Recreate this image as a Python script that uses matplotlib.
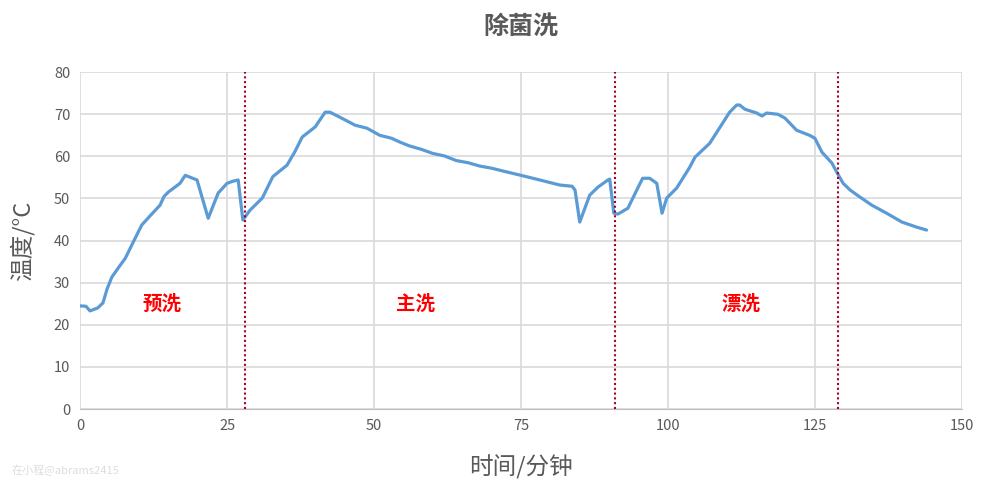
import matplotlib.pyplot as plt

plt.rcParams['font.family'] = ['Noto Sans CJK SC', 'DejaVu Sans']

# time (minutes) and temperature (°C)
minutes = [0, 1, 1.7, 3, 3.9, 4.6, 5.4, 6.5, 7.7, 9, 10.5, 12, 13.6, 14.3, 15, 17, 17.9, 19.9, 21.8, 23.5, 25, 26, 26.9,
           27.7, 28.9, 31, 32.8, 35.2, 36.5, 37.8, 40, 41.7, 42.5, 44.2, 46.8, 48.8, 51, 53, 54.4, 56, 58, 60, 62,
           64, 66, 68, 70, 72, 75, 78.2, 81.6, 83.7, 84.2, 85, 86.7, 88.1, 89.8, 90.1, 90.8, 91.5, 93.2, 94.7, 95.7,
           96.9, 98.1, 99, 99.8, 101.5, 103.7, 104.6, 107.1, 110.5, 111.7, 112.2, 113.1, 115.1, 116, 116.8, 118.7,
           119.9, 121.9, 124.1, 125, 126.2, 127.9, 128.7, 129.8, 131, 132.7, 134.7, 137.2, 139.8, 142.3, 144]
temps = [24.5, 24.4, 23.3, 24, 25.2, 28.5, 31.3, 33.5, 35.8, 39.5, 43.7, 46, 48.4, 50.5, 51.5, 53.6, 55.5, 54.4, 45.3,
         51.3, 53.6, 54.1, 54.4,
         44.9, 47.2, 50.1, 55.2, 57.9, 61, 64.6, 67, 70.5, 70.5, 69.3, 67.4, 66.7, 65, 64.3, 63.4, 62.5, 61.7, 60.7,
         60.1, 59, 58.5, 57.7, 57.2, 56.5, 55.5, 54.4, 53.2, 52.9, 52, 44.4, 50.8, 52.7, 54.4, 54.6, 46.5, 46.3,
         47.7, 52, 54.8, 54.8, 53.6, 46.5, 50.1, 52.5, 57.4, 59.8, 63.1, 70.5, 72.2, 72.2, 71.2, 70.3, 69.6, 70.3,
         70, 69.1, 66.2, 65, 64.3, 61, 58.4, 56.3, 53.6, 52, 50.3, 48.4, 46.5, 44.4, 43.2, 42.5]

# phase boundaries and labels
boundaries = [28, 91, 129]
phase_names = ['预洗', '主洗', '漂洗']
phase_x = [14, 57, 112.5]
phase_y = [25, 25, 25]

fig = plt.figure(figsize=(9.82, 4.91), dpi=100)
ax = fig.add_axes([0.0815, 0.167, 0.898, 0.686])

ax.plot(minutes, temps, color='#5B9BD5', linewidth=2.3, solid_joinstyle='round', solid_capstyle='round')

for b in boundaries:
    ax.axvline(b, color='#A50021', linestyle=(0, (1, 1.3)), linewidth=1.5, zorder=3)

for name, px, py in zip(phase_names, phase_x, phase_y):
    ax.text(px, py, name, color='#FF0000', fontsize=14, fontweight='bold', ha='center', va='center')

ax.set_xlim(0, 150)
ax.set_ylim(0, 80)
ax.set_xticks([0, 25, 50, 75, 100, 125, 150])
ax.set_yticks(range(0, 81, 10))
ax.grid(True, color='#D9D9D9', linewidth=1.2)
ax.set_axisbelow(True)
for s in ['top', 'right', 'left']:
    ax.spines[s].set_visible(False)
ax.spines['bottom'].set_color('#BFBFBF')
ax.tick_params(length=0, labelsize=10.5, colors='#595959', pad=7)

ax.set_title('除菌洗', fontsize=18, fontweight='bold', color='#595959', pad=28)
ax.set_xlabel('时间/分钟', fontsize=17, color='#595959', labelpad=16)
ax.set_ylabel('温度/°C', fontsize=17, color='#595959')
ax.yaxis.set_label_coords(-0.052, 0.5)

fig.text(0.012, 0.035, '在小程@abrams2415', fontsize=8, color='#DDDDDD')

fig.savefig('out.png', dpi=100)
